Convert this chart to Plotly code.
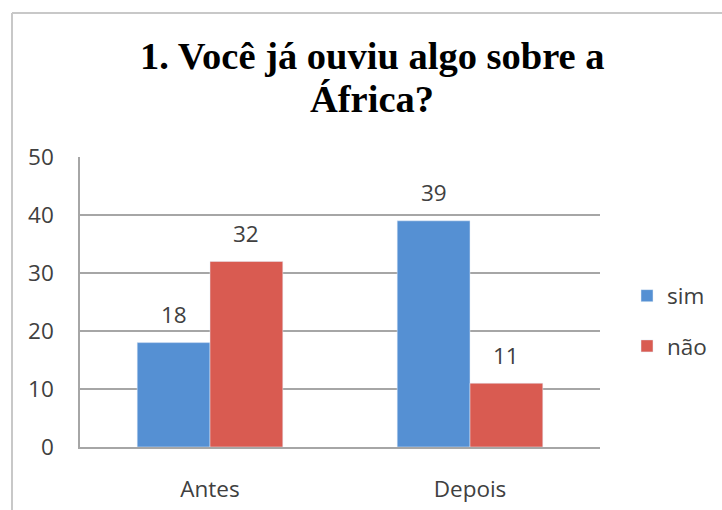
import plotly.graph_objects as go

categories = ["Antes", "Depois"]
sim = [18, 39]
nao = [32, 11]
series_names = ["sim", "não"]
title_lines = ["1. Você já ouviu algo sobre a", "África?"]

W, H = 722, 510
L, R, T, B = 80, 122, 157, 63
pw, ph = W - L - R, H - T - B

def px(x):
    return (x - L) / pw

def py(y):
    return (H - B - y) / ph

FS = 22.5
BARGAP = 0.44
bar_px = pw / len(categories) * (1 - BARGAP) / 2
label_font = dict(size=FS, color="#404040", family="Open Sans")

fig = go.Figure()
fig.add_trace(go.Bar(x=categories, y=sim, name=series_names[0], marker_color="#5590D3",
                     legendgroup="a"))
fig.add_trace(go.Bar(x=categories, y=nao, name=series_names[1], marker_color="#D95B51",
                     legendgroup="b"))

annotations = []
for vals, shift in ((sim, -bar_px / 2), (nao, bar_px / 2)):
    for c, v in zip(categories, vals):
        annotations.append(dict(x=c, y=v, xref="x", yref="y", text=str(v), showarrow=False,
                                xshift=shift, yshift=28, xanchor="center", yanchor="middle",
                                font=label_font))

annotations += [
    dict(text="<b>%s</b>" % title_lines[0], x=px(372), y=py(56), xref="paper", yref="paper",
         xanchor="center", yanchor="middle", showarrow=False,
         font=dict(family="Liberation Serif", size=38.5, color="black")),
    dict(text="<b>%s</b>" % title_lines[1], x=px(372), y=py(99), xref="paper", yref="paper",
         xanchor="center", yanchor="middle", showarrow=False,
         font=dict(family="Liberation Serif", size=38.5, color="black")),
]

fig.update_layout(
    width=W, height=H,
    margin=dict(l=L, r=R, t=T, b=B, pad=0, autoexpand=False),
    plot_bgcolor="white", paper_bgcolor="white",
    barmode="group", bargap=BARGAP, bargroupgap=0,
    font=dict(family="Open Sans", color="#404040", size=FS),
    showlegend=True,
    legend=dict(xref="container", yref="container", x=627 / W, y=1 - 321 / H,
                xanchor="left", yanchor="middle",
                font=label_font, tracegroupgap=18, itemwidth=30, bgcolor="rgba(0,0,0,0)"),
    annotations=annotations,
    shapes=[
        dict(type="line", xref="paper", yref="paper", x0=px(12), x1=px(722), y0=py(13), y1=py(13),
             line=dict(color="#C8C8C8", width=2)),
        dict(type="line", xref="paper", yref="paper", x0=px(12), x1=px(12), y0=py(13), y1=py(510),
             line=dict(color="#C8C8C8", width=2)),
    ],
)
fig.update_xaxes(showline=True, linecolor="#A6A6A6", linewidth=1.5, ticks="outside",
                 ticklen=21, tickcolor="rgba(0,0,0,0)", automargin=False,
                 tickfont=label_font)
fig.update_yaxes(range=[0, 50], dtick=10, showgrid=True, gridcolor="#A6A6A6", gridwidth=1.5,
                 showline=True, linecolor="#A6A6A6", linewidth=1.5, mirror=False,
                 ticks="outside", ticklen=20, tickcolor="rgba(0,0,0,0)", zeroline=False,
                 automargin=False, tickfont=label_font)

fig.write_html("out.html", config={"displayModeBar": False},
               post_script="document.body.style.margin='0';document.body.style.overflow='hidden';")
